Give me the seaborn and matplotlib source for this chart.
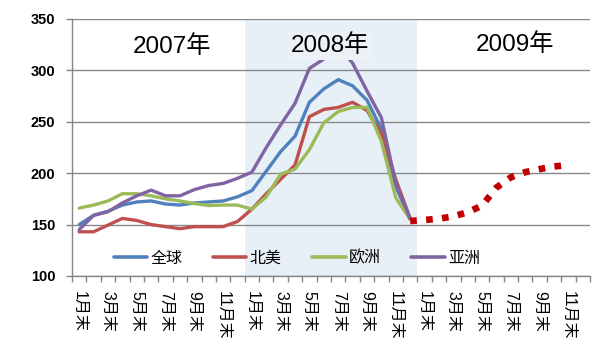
import numpy as np
import pandas as pd
import matplotlib
matplotlib.use("Agg")
import matplotlib.pyplot as plt
import seaborn as sns

# ---------------- data ----------------
month_labels = ["1月末", "", "3月末", "", "5月末", "", "7月末", "", "9月末", "", "11月末", ""] * 3
years = ["2007年", "2008年", "2009年"]
regions = ["全球", "北美", "欧洲", "亚洲"]

global_vals = [150, 159, 163, 169, 172, 173, 170, 169, 171, 172, 173, 177,
               183, 202, 221, 236, 269, 282, 291, 285, 271, 243, 187, 155]
na_vals = [143, 143, 149.5, 156, 154, 150, 148, 146, 148, 148, 148, 153,
           165, 180, 194, 208, 255, 262, 264, 269, 261, 238, 194, 156]
eu_vals = [166, 169, 173, 180, 180, 178, 175, 173, 170.5, 168.5, 169, 169,
           165, 177, 199, 204, 223, 249, 260, 264, 264, 231, 176, 155]
asia_vals = [145, 159, 162.5, 171, 178, 183.5, 178, 178, 184, 188, 190, 195,
             201, 225, 247, 268, 302, 311, 324, 307, 280, 254, 190, 156]
forecast_vals = [153.5, 154.5, 155.7, 158, 162, 168.5, 186, 196, 201, 204, 206.5, 208]

colors = ["#4F81BD", "#C0504D", "#9BBB59", "#8064A2"]
forecast_color = "#C00000"
shade_color = "#E8F0F7"

# ---------------- build frame ----------------
n = len(global_vals)
df = pd.DataFrame({
    "x": list(range(n)) * 4,
    "value": global_vals + na_vals + eu_vals + asia_vals,
    "region": sum([[r] * n for r in regions], []),
})
fc_x = list(range(n - 1, n - 1 + len(forecast_vals)))

sns.set_theme(style="white")
plt.rcParams["font.family"] = ["Liberation Sans", "Noto Sans CJK SC", "DejaVu Sans"]
plt.rcParams["text.color"] = "black"
plt.rcParams["xtick.color"] = "black"
plt.rcParams["ytick.color"] = "black"

fig = plt.figure(figsize=(6.02, 3.61), dpi=100)
ax = fig.add_axes([0.1196, 0.2355, 0.8605, 0.7119])

ax.axvspan(11.5, 23.5, color=shade_color, zorder=0, lw=0)

sns.lineplot(data=df, x="x", y="value", hue="region", hue_order=regions,
             palette=colors, linewidth=2.4, ax=ax, zorder=3)
sns.lineplot(x=fc_x, y=forecast_vals, color=forecast_color, linewidth=4.8,
             linestyle=(0, (1, 1.4)), dash_capstyle="butt", ax=ax,
             legend=False, zorder=4)

# axes
ax.set_xlim(-0.5, len(month_labels) - 0.5)
ax.set_ylim(100, 350)
ax.set_yticks([100, 150, 200, 250, 300, 350])
ax.yaxis.grid(True, color="#888888", linewidth=1)
ax.xaxis.grid(False)
ax.set_axisbelow(True)
for s in ["top", "right"]:
    ax.spines[s].set_visible(False)
for s in ["left", "bottom"]:
    ax.spines[s].set_color("#868686")
    ax.spines[s].set_linewidth(1)

ax.set_xticks(np.arange(-0.5, len(month_labels), 1))
ax.set_xticklabels([])
ax.set_xticks(np.arange(len(month_labels)), minor=True)
ax.set_xticklabels(month_labels, minor=True, rotation=-90, fontsize=11.5,
                   va="top", ha="center", color="black")
ax.tick_params(axis="x", which="major", direction="out", length=4,
               color="#868686", width=1, bottom=True)
ax.tick_params(axis="x", which="minor", length=0, pad=11, bottom=True,
               labelcolor="black")
ax.tick_params(axis="y", direction="out", length=4, color="#868686",
               width=1, pad=8, labelsize=10.5, left=True, labelcolor="black")
for t in ax.get_yticklabels():
    t.set_fontweight("bold")
ax.set_xlabel("")
ax.set_ylabel("")

# year labels
ax.text(6.48, 322.8, years[0], fontsize=17.5, ha="center", va="center",
        zorder=5, color="black")
ax.text(17.4, 323.7, years[1], fontsize=17.5, ha="center", va="center",
        zorder=5, color="black",
        bbox=dict(facecolor="#EAF2F8", edgecolor="none", pad=1.5))
ax.text(30.3, 324.7, years[2], fontsize=17.5, ha="center", va="center",
        zorder=5, color="black")

# legend
handles, labels = ax.get_legend_handles_labels()
leg = ax.legend(handles[:4], labels[:4], loc="center", bbox_to_anchor=(0.434, 0.07),
                ncol=4, frameon=False, fontsize=11.5, handlelength=2.1,
                handletextpad=0.2, columnspacing=1.9, borderaxespad=0)
for h in leg.get_lines():
    h.set_linewidth(2.6)
for t in leg.get_texts():
    t.set_color("black")

fig.savefig("out.png", dpi=100)
